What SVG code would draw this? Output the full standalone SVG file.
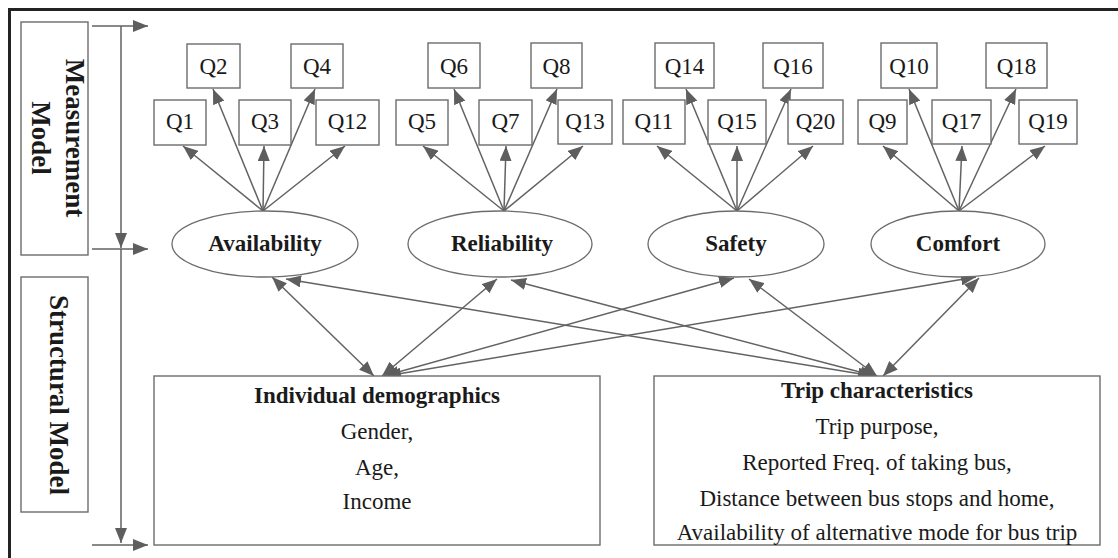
<svg xmlns="http://www.w3.org/2000/svg" width="1118" height="558" viewBox="0 0 1118 558">
<style>
.frame{stroke:#232323;stroke-width:3;fill:none}
.box{fill:#fff;stroke:#6c6c6c;stroke-width:1.4}
.ell{fill:#fff;stroke:#6c6c6c;stroke-width:1.3}
.ln{stroke:#626262;stroke-width:1.5;fill:none}
.a{marker-end:url(#ah)}
.aa{marker-start:url(#ah);marker-end:url(#ah)}
text{font-family:"Liberation Serif","Times New Roman",serif;fill:#1a1a1a}
.q{font-size:23px;text-anchor:middle}
.lb{font-size:23px;font-weight:bold;text-anchor:middle}
.tx{font-size:23px;text-anchor:middle}
.side{font-size:27px;font-weight:bold;text-anchor:middle}
</style>
<defs>
<marker id="ah" markerUnits="userSpaceOnUse" markerWidth="16" markerHeight="12" refX="15" refY="6" orient="auto-start-reverse" viewBox="0 0 16 12">
<path d="M0,0 L15,6 L0,12 z" fill="#5e5e5e"/>
</marker>
</defs>
<rect width="1118" height="558" fill="#fff"/>
<path class="frame" d="M9.5,558 V9.5 H1118"/>

<g id="side-measurement">
<rect class="box" x="21" y="22" width="67" height="233"/>
<text class="side" transform="translate(66,138) rotate(90)">Measurement</text>
<text class="side" transform="translate(32,138) rotate(90)">Model</text>
</g>
<g id="side-structural">
<rect class="box" x="21" y="277" width="67" height="235"/>
<text class="side" transform="translate(50,395) rotate(90)">Structural Model</text>
</g>

<g id="connectors">
<line class="ln a" x1="92" y1="26" x2="148" y2="26"/>
<line class="ln a" x1="121" y1="26" x2="121" y2="248"/>
<line class="ln a" x1="92" y1="249" x2="148" y2="249"/>
<line class="ln a" x1="121" y1="249" x2="121" y2="543"/>
<line class="ln a" x1="92" y1="545" x2="148" y2="545"/>

<line class="ln a" x1="263" y1="211" x2="183" y2="146"/>
<line class="ln a" x1="263" y1="211" x2="213" y2="89"/>
<line class="ln a" x1="263" y1="211" x2="264" y2="146"/>
<line class="ln a" x1="263" y1="211" x2="315" y2="89"/>
<line class="ln a" x1="263" y1="211" x2="345" y2="146"/>

<line class="ln a" x1="504" y1="211" x2="423" y2="146"/>
<line class="ln a" x1="504" y1="211" x2="454" y2="89"/>
<line class="ln a" x1="504" y1="211" x2="506" y2="146"/>
<line class="ln a" x1="504" y1="211" x2="557" y2="89"/>
<line class="ln a" x1="504" y1="211" x2="583" y2="146"/>

<line class="ln a" x1="737" y1="211" x2="657" y2="146"/>
<line class="ln a" x1="737" y1="211" x2="686" y2="89"/>
<line class="ln a" x1="737" y1="211" x2="737" y2="146"/>
<line class="ln a" x1="737" y1="211" x2="791" y2="89"/>
<line class="ln a" x1="737" y1="211" x2="813" y2="146"/>

<line class="ln a" x1="959" y1="211" x2="883" y2="146"/>
<line class="ln a" x1="959" y1="211" x2="909" y2="89"/>
<line class="ln a" x1="959" y1="211" x2="962" y2="146"/>
<line class="ln a" x1="959" y1="211" x2="1016" y2="89"/>
<line class="ln a" x1="959" y1="211" x2="1045" y2="146"/>

<line class="ln aa" x1="374" y1="376" x2="272" y2="277"/>
<line class="ln aa" x1="382" y1="376" x2="497" y2="279"/>
<line class="ln aa" x1="384" y1="376" x2="734" y2="278"/>
<line class="ln aa" x1="386" y1="376" x2="976" y2="277"/>
<line class="ln aa" x1="873" y1="376" x2="286" y2="279"/>
<line class="ln aa" x1="875" y1="376" x2="511" y2="280"/>
<line class="ln aa" x1="877" y1="376" x2="749" y2="279"/>
<line class="ln aa" x1="883" y1="376" x2="979" y2="278"/>
</g>

<g id="Q1"><rect class="box" x="154" y="100" width="52" height="45"/><text class="q" x="180" y="129">Q1</text></g>
<g id="Q2"><rect class="box" x="187" y="44" width="53" height="44"/><text class="q" x="213.5" y="74">Q2</text></g>
<g id="Q3"><rect class="box" x="239" y="100" width="52" height="45"/><text class="q" x="265" y="129">Q3</text></g>
<g id="Q4"><rect class="box" x="291" y="44" width="52" height="44"/><text class="q" x="317" y="74">Q4</text></g>
<g id="Q12"><rect class="box" x="316" y="100" width="63" height="45"/><text class="q" x="347.5" y="129">Q12</text></g>

<g id="Q5"><rect class="box" x="396" y="100" width="52" height="45"/><text class="q" x="422" y="129">Q5</text></g>
<g id="Q6"><rect class="box" x="428" y="43" width="52" height="45"/><text class="q" x="454" y="74">Q6</text></g>
<g id="Q7"><rect class="box" x="479" y="100" width="53" height="45"/><text class="q" x="505.5" y="129">Q7</text></g>
<g id="Q8"><rect class="box" x="531" y="43" width="51" height="45"/><text class="q" x="556.5" y="74">Q8</text></g>
<g id="Q13"><rect class="box" x="558" y="100" width="54" height="44"/><text class="q" x="585" y="129">Q13</text></g>

<g id="Q11"><rect class="box" x="623" y="100" width="62" height="44"/><text class="q" x="654" y="129">Q11</text></g>
<g id="Q14"><rect class="box" x="655" y="43" width="59" height="45"/><text class="q" x="684.5" y="74">Q14</text></g>
<g id="Q15"><rect class="box" x="708" y="100" width="58" height="44"/><text class="q" x="737" y="129">Q15</text></g>
<g id="Q16"><rect class="box" x="763" y="43" width="60" height="45"/><text class="q" x="793" y="74">Q16</text></g>
<g id="Q20"><rect class="box" x="788" y="100" width="55" height="44"/><text class="q" x="815.5" y="129">Q20</text></g>

<g id="Q9"><rect class="box" x="858" y="100" width="49" height="44"/><text class="q" x="882.5" y="129">Q9</text></g>
<g id="Q10"><rect class="box" x="881" y="43" width="56" height="45"/><text class="q" x="909" y="74">Q10</text></g>
<g id="Q17"><rect class="box" x="932" y="100" width="59" height="44"/><text class="q" x="961.5" y="129">Q17</text></g>
<g id="Q18"><rect class="box" x="986" y="43" width="61" height="45"/><text class="q" x="1016.5" y="74">Q18</text></g>
<g id="Q19"><rect class="box" x="1019" y="100" width="58" height="44"/><text class="q" x="1048" y="129">Q19</text></g>

<g id="availability"><ellipse class="ell" cx="265" cy="244" rx="93" ry="33"/><text class="lb" x="265" y="251">Availability</text></g>
<g id="reliability"><ellipse class="ell" cx="500" cy="244" rx="92" ry="33"/><text class="lb" x="502" y="251">Reliability</text></g>
<g id="safety"><ellipse class="ell" cx="736" cy="244" rx="88" ry="33"/><text class="lb" x="736" y="251">Safety</text></g>
<g id="comfort"><ellipse class="ell" cx="958" cy="244" rx="87" ry="33"/><text class="lb" x="958" y="251">Comfort</text></g>

<g id="demographics">
<rect class="box" x="154" y="376" width="446" height="169"/>
<text class="lb" x="377" y="403">Individual demographics</text>
<text class="tx" x="377" y="439">Gender,</text>
<text class="tx" x="377" y="475">Age,</text>
<text class="tx" x="377" y="509">Income</text>
</g>
<g id="trip">
<rect class="box" x="654" y="376" width="446" height="169"/>
<text class="lb" x="877" y="398">Trip characteristics</text>
<text class="tx" x="877" y="434">Trip purpose,</text>
<text class="tx" x="877" y="470">Reported Freq. of taking bus,</text>
<text class="tx" x="877" y="506">Distance between bus stops and home,</text>
<text class="tx" x="877" y="540">Availability of alternative mode for bus trip</text>
</g>
</svg>
